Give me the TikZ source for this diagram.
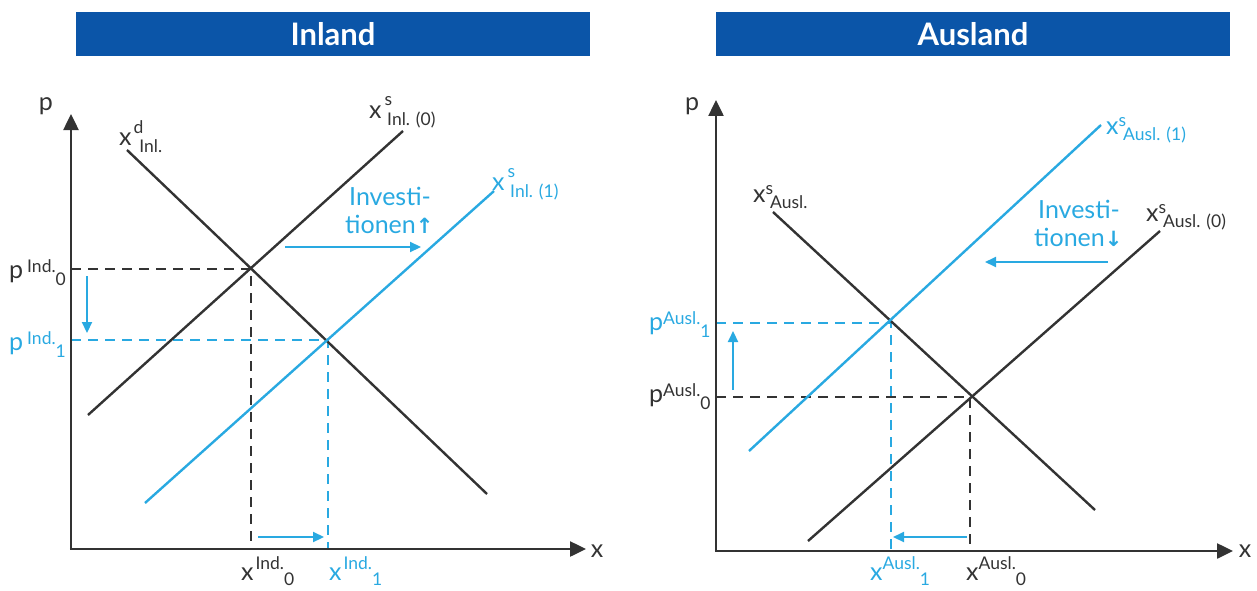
\documentclass[tikz,border=0pt]{standalone}
\usepackage{fontspec}
\setmainfont{Lato}
\newfontfamily\dejavu{DejaVu Sans}
\usetikzlibrary{arrows.meta}
\definecolor{hdr}{HTML}{0B55A8}
\definecolor{cy}{HTML}{29A9E1}
\definecolor{dk}{HTML}{333333}
\newcommand\scr{\fontsize{17.5}{17.5}\selectfont}
\newcommand\lbl[5]{#1\raisebox{#4}{\scr #2}\raisebox{-#5}{\scr #3}}
\begin{document}
\begin{tikzpicture}[x=1pt,y=-1pt,
  hdrbox/.style={fill=hdr, draw=none, minimum width=514pt, minimum height=44pt, text=white, font=\fontsize{31}{31}\selectfont\bfseries, inner sep=0pt},
  axis/.style={draw=dk, line width=2.5pt, -{Triangle[width=15pt,length=16pt]}},
  curve/.style={line width=2.4pt},
  blk/.style={draw=dk},
  blu/.style={draw=cy},
  dsh/.style={line width=2.2pt, dash pattern=on 10pt off 7pt},
  barrow/.style={draw=cy, line width=2.2pt, -{Triangle[width=10pt,length=11pt]}},
  lab/.style={font=\fontsize{25}{25}\selectfont, anchor=base west, inner sep=0pt, text=dk},
  blab/.style={lab, text=cy},
  ctr/.style={font=\fontsize{25}{25}\selectfont, inner sep=0pt, text=dk}]
\useasboundingbox (0,0) rectangle (1257,591);
% headers
\node[hdrbox] (hInland) at (333,34) {Inland};
\node[hdrbox] (hAusland) at (973,34) {Ausland};

% ---------------- left panel ----------------
\coordinate (LO) at (71,549);
\coordinate (LY) at (71,114);
\coordinate (LX) at (586,549);
\coordinate (LE0) at (251,269);
\coordinate (LE1) at (328,340);
\coordinate (LDa) at (127,150);
\coordinate (LDb) at (487,494);
\coordinate (LS0a) at (88,415);
\coordinate (LS0b) at (403,131);
\coordinate (LS1a) at (145,503);
\coordinate (LS1b) at (494,191);

\draw[blk,dsh] (LO |- LE0) -- (LE0) -- (LE0 |- LO);
\draw[blu,dsh] (LO |- LE1) -- (LE1) -- (LE1 |- LO);
\draw[blk,curve] (LDa) -- (LDb);
\draw[blk,curve] (LS0a) -- (LS0b);
\draw[blu,curve] (LS1a) -- (LS1b);
\draw[axis] (LO) -- (LY);
\draw[axis] ([xshift=-1.25pt]LO) -- (LX);

\coordinate (La1s) at (87,276);
\coordinate (La1e) at (87,333);
\draw[barrow] (La1s) -- (La1e);
\coordinate (La2s) at (258,537);
\coordinate (La2e) at (324,537);
\draw[barrow] (La2s) -- (La2e);
\coordinate (La3s) at (285,247);
\coordinate (La3e) at (421,247);
\draw[barrow] (La3s) -- (La3e);

\node[ctr] (Lp) at (46,106) {p};
\node[ctr] (Lx) at (597,551) {x};
\node[lab] (Ld) at (119,145) {\lbl{x\kern2pt}{d}{\kern-4pt Inl.}{12pt}{7pt}};
\node[lab] (Ls0) at (369,118) {\lbl{x\kern3pt}{s}{\kern-5pt Inl. (0)}{13pt}{7pt}};
\node[blab] (Ls1) at (492,190) {\lbl{x\kern3pt}{s}{\kern-5pt Inl. (1)}{13pt}{7pt}};
\node[blab] (Linv1) at (349,205) {Investi-};
\node[blab] (Linv2) at (345,233) {tionen{\dejavu\bfseries\fontsize{21}{21}\selectfont ↑}};
\node[lab] (Lp0) at (9,278) {\lbl{p\kern4pt}{Ind.}{0}{6pt}{7pt}};
\node[blab] (Lp1) at (9,350) {\lbl{p\kern4pt}{Ind.}{1}{6pt}{7pt}};
\node[lab] (Lx0) at (241,580) {\lbl{x\kern2pt}{Ind.}{0}{11pt}{5pt}};
\node[blab] (Lx1) at (329,580) {\lbl{x\kern2pt}{Ind.}{1}{11pt}{5pt}};

% ---------------- right panel ----------------
\coordinate (RO) at (716,551);
\coordinate (RY) at (716,100);
\coordinate (RX) at (1233,551);
\coordinate (RE0) at (970,397);
\coordinate (RE1) at (891,323);
\coordinate (RDa) at (773,212);
\coordinate (RDb) at (1095,510);
\coordinate (RS0a) at (808,541);
\coordinate (RS0b) at (1160,231);
\coordinate (RS1a) at (749,451);
\coordinate (RS1b) at (1101,125);

\draw[blu,dsh] (RO |- RE1) -- (RE1) -- (RE1 |- RO);
\draw[blk,dsh] (RO |- RE0) -- (RE0) -- (RE0 |- RO);
\draw[blk,curve] (RDa) -- (RDb);
\draw[blk,curve] (RS0a) -- (RS0b);
\draw[blu,curve] (RS1a) -- (RS1b);
\draw[axis] (RO) -- (RY);
\draw[axis] ([xshift=-1.25pt]RO) -- (RX);

\coordinate (Ra1s) at (733,390);
\coordinate (Ra1e) at (733,331);
\draw[barrow] (Ra1s) -- (Ra1e);
\coordinate (Ra2s) at (967,537);
\coordinate (Ra2e) at (893,537);
\draw[barrow] (Ra2s) -- (Ra2e);
\coordinate (Ra3s) at (1108,262);
\coordinate (Ra3e) at (985,262);
\draw[barrow] (Ra3s) -- (Ra3e);

\node[ctr] (Rp) at (692,106) {p};
\node[ctr] (Rx) at (1245,551) {x};
\node[lab] (Rd) at (753,202) {\lbl{x}{s}{\kern-3pt Ausl.}{8pt}{6pt}};
\node[blab] (Rs1) at (1106,134) {\lbl{x}{s}{\kern-3pt Ausl. (1)}{8pt}{6pt}};
\node[lab] (Rs0) at (1146,221) {\lbl{x}{s}{\kern-3pt Ausl. (0)}{8pt}{6pt}};
\node[blab] (Rinv1) at (1038,218) {Investi-};
\node[blab] (Rinv2) at (1034,246) {tionen{\dejavu\bfseries\fontsize{21}{21}\selectfont ↓}};
\node[blab] (Rp1) at (649,330) {\lbl{p}{Ausl.}{1}{6pt}{7pt}};
\node[lab] (Rp0) at (649,402) {\lbl{p}{Ausl.}{0}{6pt}{7pt}};
\node[blab] (Rx1) at (870,580) {\lbl{x}{Ausl.}{1}{11pt}{5pt}};
\node[lab] (Rx0) at (966,580) {\lbl{x}{Ausl.}{0}{11pt}{5pt}};
\end{tikzpicture}
\end{document}
